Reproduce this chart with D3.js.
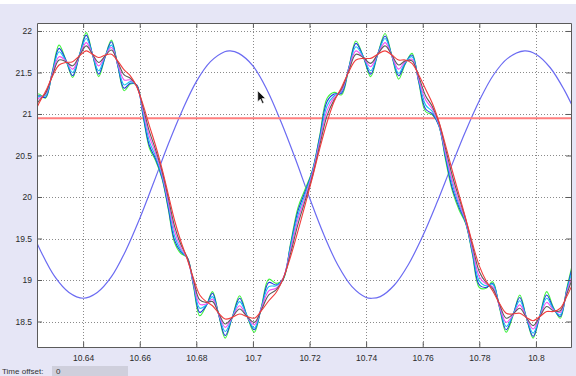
<!DOCTYPE html>
<html>
<head>
<meta charset="utf-8">
<script src="https://cdn.jsdelivr.net/npm/d3@7"></script>
<style>
  html, body { margin: 0; padding: 0; background: #fff; }
  svg { display: block; }
  text { font-family: "Liberation Sans", Arial, sans-serif; }
</style>
</head>
<body>
<svg width="576" height="376"></svg>
<script>
// x ticks / y ticks
const xTicks = [10.64, 10.66, 10.68, 10.7, 10.72, 10.74, 10.76, 10.78, 10.8];
const yTicks = [18.5, 19, 19.5, 20, 20.5, 21, 21.5, 22];

// reference sine (drawn in light blue)
const refT = [10.620, 10.625, 10.630, 10.635, 10.640, 10.645, 10.650, 10.655, 10.660, 10.665,
  10.670, 10.675, 10.680, 10.685, 10.690, 10.692, 10.695, 10.700, 10.705, 10.710,
  10.715, 10.720, 10.725, 10.730, 10.735, 10.740, 10.742, 10.745, 10.750, 10.755,
  10.760, 10.765, 10.770, 10.775, 10.780, 10.785, 10.790, 10.796, 10.800, 10.805,
  10.810, 10.815];
const refV = [19.74, 19.35, 19.04, 18.85, 18.78, 18.85, 19.04, 19.35, 19.74, 20.18,
  20.63, 21.04, 21.39, 21.63, 21.75, 21.76, 21.73, 21.58, 21.29, 20.90,
  20.46, 19.99, 19.55, 19.18, 18.92, 18.79, 18.78, 18.80, 18.94, 19.19,
  19.53, 19.93, 20.36, 20.78, 21.16, 21.47, 21.67, 21.76, 21.72, 21.56,
  21.29, 20.94];

// threshold line
const limitValue = 20.95;

// sampled time axis of the six rippled signals
const t = [10.6220, 10.6244, 10.6267, 10.6291, 10.6315, 10.6339, 10.6363, 10.6387, 10.6411, 10.6433,
  10.6455, 10.6478, 10.6500, 10.6522, 10.6545, 10.6567, 10.6589, 10.6612, 10.6634, 10.6656,
  10.6679, 10.6701, 10.6723, 10.6745, 10.6768, 10.6790, 10.6812, 10.6835, 10.6857, 10.6879,
  10.6902, 10.6927, 10.6953, 10.6979, 10.7005, 10.7030, 10.7056, 10.7082, 10.7107, 10.7133,
  10.7159, 10.7184, 10.7210, 10.7236, 10.7262, 10.7287, 10.7313, 10.7339, 10.7364, 10.7390,
  10.7416, 10.7441, 10.7467, 10.7491, 10.7515, 10.7538, 10.7562, 10.7586, 10.7610, 10.7634,
  10.7657, 10.7681, 10.7705, 10.7729, 10.7752, 10.7776, 10.7800, 10.7824, 10.7847, 10.7871,
  10.7895, 10.7919, 10.7943, 10.7966, 10.7990, 10.8014, 10.8038, 10.8062, 10.8086, 10.8109,
  10.8133];

const green = [21.21, 21.24, 21.19, 21.51, 21.83, 21.65, 21.44, 21.71, 21.98, 21.72,
  21.45, 21.69, 21.89, 21.59, 21.28, 21.36, 21.35, 20.97, 20.59, 20.44,
  20.22, 19.85, 19.45, 19.32, 19.27, 18.92, 18.57, 18.69, 18.86, 18.58,
  18.30, 18.55, 18.81, 18.57, 18.37, 18.68, 19.01, 18.96, 19.01, 19.44,
  19.87, 20.09, 20.32, 20.74, 21.19, 21.26, 21.23, 21.56, 21.88, 21.69,
  21.45, 21.72, 21.97, 21.70, 21.42, 21.60, 21.73, 21.38, 21.03, 20.99,
  20.86, 20.44, 20.07, 19.84, 19.68, 19.30, 18.91, 18.90, 18.98, 18.67,
  18.37, 18.57, 18.82, 18.55, 18.30, 18.57, 18.86, 18.67, 18.54, 18.90,
  19.25];
const blue = [21.17, 21.22, 21.20, 21.50, 21.79, 21.65, 21.46, 21.71, 21.95, 21.72,
  21.48, 21.69, 21.87, 21.59, 21.31, 21.37, 21.35, 20.98, 20.62, 20.46,
  20.23, 19.87, 19.48, 19.34, 19.27, 18.94, 18.61, 18.69, 18.84, 18.58,
  18.33, 18.55, 18.78, 18.57, 18.40, 18.67, 18.97, 18.94, 19.02, 19.42,
  19.83, 20.06, 20.31, 20.72, 21.15, 21.24, 21.25, 21.56, 21.85, 21.69,
  21.48, 21.72, 21.94, 21.70, 21.46, 21.61, 21.71, 21.39, 21.06, 21.00,
  20.86, 20.47, 20.10, 19.87, 19.69, 19.32, 18.94, 18.91, 18.96, 18.68,
  18.40, 18.58, 18.79, 18.55, 18.32, 18.57, 18.82, 18.66, 18.56, 18.88,
  19.22];
const cyan = [21.13, 21.21, 21.22, 21.49, 21.75, 21.64, 21.50, 21.71, 21.91, 21.72,
  21.52, 21.70, 21.83, 21.60, 21.35, 21.39, 21.34, 21.01, 20.67, 20.49,
  20.25, 19.91, 19.53, 19.36, 19.26, 18.95, 18.66, 18.70, 18.80, 18.59,
  18.38, 18.55, 18.74, 18.57, 18.42, 18.67, 18.92, 18.93, 19.01, 19.40,
  19.78, 20.03, 20.30, 20.69, 21.10, 21.22, 21.27, 21.55, 21.81, 21.69,
  21.52, 21.72, 21.91, 21.70, 21.49, 21.62, 21.69, 21.41, 21.11, 21.03,
  20.87, 20.50, 20.15, 19.90, 19.70, 19.34, 18.99, 18.93, 18.95, 18.69,
  18.44, 18.58, 18.75, 18.55, 18.36, 18.57, 18.78, 18.65, 18.58, 18.87,
  19.17];
const magenta = [21.07, 21.19, 21.24, 21.48, 21.69, 21.64, 21.54, 21.70, 21.86, 21.72,
  21.58, 21.70, 21.80, 21.61, 21.41, 21.41, 21.34, 21.04, 20.73, 20.53,
  20.28, 19.94, 19.59, 19.39, 19.26, 18.97, 18.71, 18.71, 18.77, 18.59,
  18.43, 18.55, 18.69, 18.56, 18.46, 18.66, 18.87, 18.90, 19.02, 19.36,
  19.73, 19.99, 20.28, 20.66, 21.04, 21.20, 21.28, 21.54, 21.76, 21.68,
  21.57, 21.72, 21.86, 21.70, 21.54, 21.63, 21.66, 21.42, 21.17, 21.06,
  20.88, 20.53, 20.19, 19.93, 19.71, 19.37, 19.04, 18.95, 18.92, 18.69,
  18.49, 18.58, 18.70, 18.55, 18.41, 18.56, 18.73, 18.64, 18.61, 18.85,
  19.11];
const gray = [21.01, 21.16, 21.25, 21.46, 21.65, 21.63, 21.58, 21.70, 21.82, 21.72,
  21.62, 21.70, 21.77, 21.63, 21.47, 21.43, 21.34, 21.08, 20.79, 20.57,
  20.31, 19.99, 19.65, 19.43, 19.27, 19.00, 18.76, 18.73, 18.74, 18.60,
  18.47, 18.55, 18.65, 18.56, 18.49, 18.64, 18.82, 18.88, 19.01, 19.32,
  19.67, 19.95, 20.25, 20.62, 20.98, 21.17, 21.30, 21.52, 21.72, 21.68,
  21.61, 21.72, 21.82, 21.71, 21.59, 21.64, 21.64, 21.45, 21.22, 21.09,
  20.90, 20.58, 20.25, 19.98, 19.73, 19.41, 19.10, 18.97, 18.90, 18.71,
  18.54, 18.59, 18.66, 18.55, 18.45, 18.56, 18.68, 18.63, 18.63, 18.83,
  19.06];
const red = [20.94, 21.13, 21.27, 21.45, 21.59, 21.62, 21.63, 21.70, 21.76, 21.72,
  21.68, 21.71, 21.72, 21.64, 21.53, 21.46, 21.33, 21.11, 20.86, 20.62,
  20.34, 20.03, 19.72, 19.47, 19.25, 19.02, 18.82, 18.74, 18.69, 18.60,
  18.53, 18.55, 18.59, 18.56, 18.54, 18.63, 18.75, 18.85, 19.02, 19.28,
  19.59, 19.90, 20.23, 20.58, 20.90, 21.15, 21.32, 21.51, 21.65, 21.67,
  21.67, 21.72, 21.76, 21.71, 21.65, 21.65, 21.61, 21.47, 21.30, 21.13,
  20.91, 20.62, 20.31, 20.02, 19.74, 19.44, 19.17, 18.99, 18.87, 18.72,
  18.60, 18.59, 18.60, 18.55, 18.51, 18.56, 18.62, 18.62, 18.66, 18.80,
  18.98];

const series = [
  { name: "green", values: green, color: "#3ff23c" },
  { name: "blue", values: blue, color: "#1f36e0" },
  { name: "cyan", values: cyan, color: "#16c4ee" },
  { name: "magenta", values: magenta, color: "#f24ef2" },
  { name: "gray", values: gray, color: "#5c5c5c" },
  { name: "red", values: red, color: "#f23c3c" },
];

const svg = d3.select("svg");
const W = 576, H = 376;
const plot = { left: 37, top: 23, right: 571, bottom: 347 };

// window background
svg.append("rect").attr("x", 0).attr("y", 4).attr("width", W).attr("height", H - 4).attr("fill", "#e6e6f6");

const x = d3.scaleLinear().domain([10.6237, 10.8124]).range([plot.left, plot.right]);
const y = d3.scaleLinear().domain([18.193, 22.096]).range([plot.bottom, plot.top]);

svg.append("rect")
  .attr("x", plot.left).attr("y", plot.top)
  .attr("width", plot.right - plot.left).attr("height", plot.bottom - plot.top)
  .attr("fill", "#fff");

svg.append("clipPath").attr("id", "clip")
  .append("rect")
  .attr("x", plot.left).attr("y", plot.top)
  .attr("width", plot.right - plot.left).attr("height", plot.bottom - plot.top);

// dotted grid
const grid = svg.append("g").attr("stroke", "#8a8a8a").attr("stroke-dasharray", "1,2");
grid.selectAll(".gx").data(xTicks).join("line")
  .attr("x1", d => Math.round(x(d)) + 0.5).attr("x2", d => Math.round(x(d)) + 0.5)
  .attr("y1", plot.top).attr("y2", plot.bottom);
grid.selectAll(".gy").data(yTicks).join("line")
  .attr("y1", d => Math.round(y(d)) + 0.5).attr("y2", d => Math.round(y(d)) + 0.5)
  .attr("x1", plot.left).attr("x2", plot.right);

const lines = svg.append("g").attr("clip-path", "url(#clip)").attr("fill", "none");

// reference sine
const refLine = d3.line().x((d, i) => x(refT[i])).y(d => y(d)).curve(d3.curveCatmullRom);
lines.append("path").attr("d", refLine(refV)).attr("stroke", "#6b6bf2").attr("stroke-width", 1.2);

// threshold
lines.append("line")
  .attr("x1", x.range()[0]).attr("x2", x.range()[1])
  .attr("y1", y(limitValue)).attr("y2", y(limitValue))
  .attr("stroke", "#ff7f7f").attr("stroke-width", 2);

const sigLine = d3.line().x((d, i) => x(t[i])).y(d => y(d)).curve(d3.curveCatmullRom.alpha(0.5));
lines.selectAll(".sig").data(series).join("path")
  .attr("d", d => sigLine(d.values))
  .attr("stroke", d => d.color)
  .attr("stroke-width", 1.1);

// axes: ticks inside on all four sides
const axG = svg.append("g");
axG.append("g").attr("transform", `translate(0,${plot.bottom})`)
  .call(d3.axisBottom(x).tickValues(xTicks).tickSizeInner(-5).tickSizeOuter(0).tickPadding(8).tickFormat(d3.format("")));
axG.append("g").attr("transform", `translate(0,${plot.top})`)
  .call(d3.axisTop(x).tickValues(xTicks).tickSizeInner(-5).tickSizeOuter(0).tickFormat(""));
axG.append("g").attr("transform", `translate(${plot.left},0)`)
  .call(d3.axisLeft(y).tickValues(yTicks).tickSizeInner(-5).tickSizeOuter(0).tickPadding(5).tickFormat(d3.format("")));
axG.append("g").attr("transform", `translate(${plot.right},0)`)
  .call(d3.axisRight(y).tickValues(yTicks).tickSizeInner(-5).tickSizeOuter(0).tickFormat(""));
axG.selectAll(".domain").attr("stroke", "#5a5a5a");
axG.selectAll(".tick line").attr("stroke", "#5a5a5a");
axG.selectAll("text").attr("fill", "#2a2a2a").style("font-size", "8.5px").style("font-family", "'Liberation Sans', Arial, sans-serif");

// footer: time offset control
svg.append("text").attr("x", 2).attr("y", 374).attr("fill", "#333").style("font-size", "8px").text("Time offset:");
svg.append("rect").attr("x", 52).attr("y", 366).attr("width", 76).attr("height", 10).attr("fill", "#cfcfdc");
svg.append("text").attr("x", 56).attr("y", 374).attr("fill", "#333").style("font-size", "8px").text("0");

// mouse pointer
const cx = x(10.7017), cy = y(21.28);
svg.append("path")
  .attr("d", `M${cx},${cy} l0,11 l2.6,-2.6 l2,4.4 l1.6,-0.8 l-2,-4.2 l3.6,0 z`)
  .attr("fill", "#111").attr("stroke", "#fff").attr("stroke-width", 0.6);
</script>
</body>
</html>
